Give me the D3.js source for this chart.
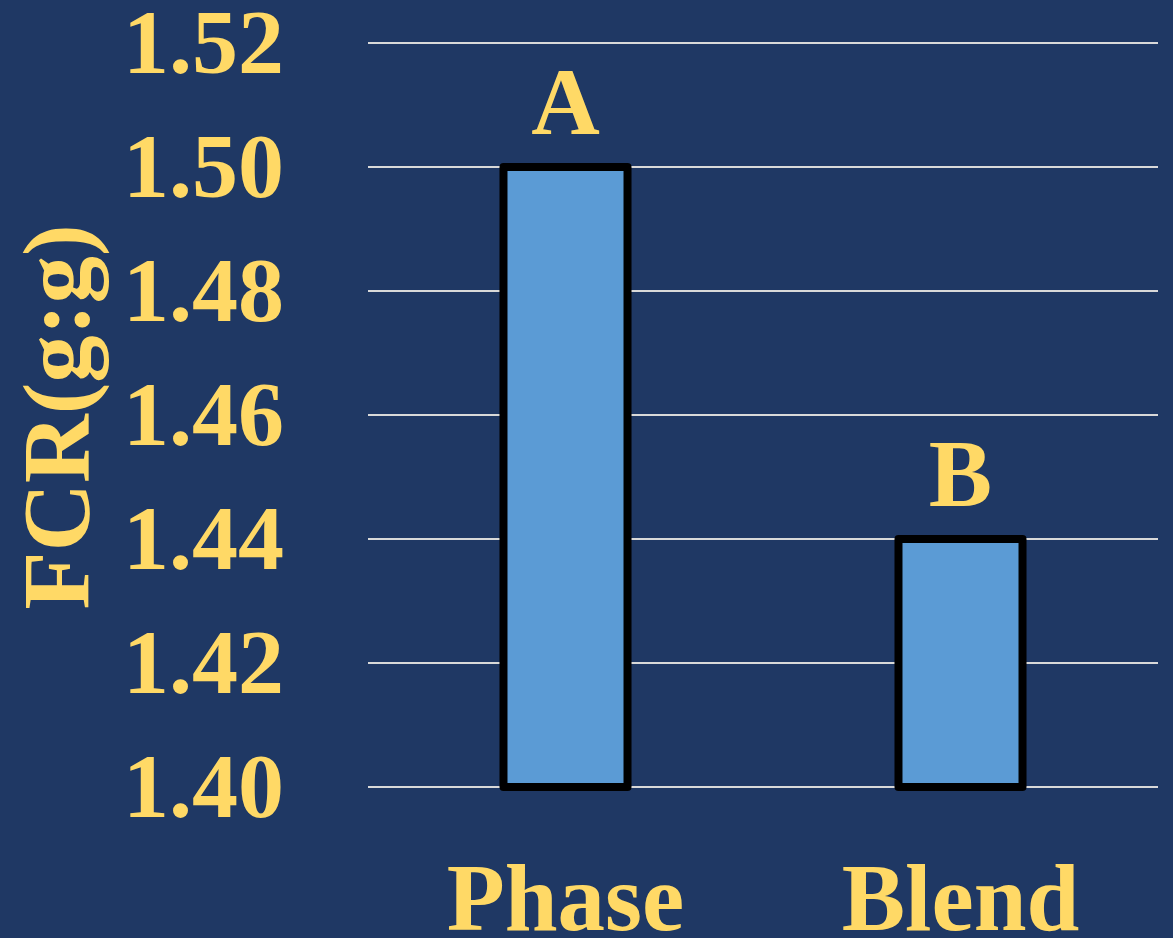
<!DOCTYPE html>
<html>
<head>
<meta charset="utf-8">
<script src="https://cdn.jsdelivr.net/npm/d3@7"></script>
<style>
  html, body { margin: 0; padding: 0; background: #1f3864; }
  svg { display: block; }
</style>
</head>
<body>
<script>
// datos del gráfico
const categorias = ["Phase", "Blend"];
const valores = [1.50, 1.44];
const letras = ["A", "B"];
const ticks = [1.40, 1.42, 1.44, 1.46, 1.48, 1.50, 1.52];
const tituloY = "FCR(g:g)";

const ancho = 1173, alto = 938;
const amarillo = "#ffd966";
const fuente = "'Liberation Serif', 'Times New Roman', serif";

const svg = d3.select("body").append("svg")
  .attr("width", ancho)
  .attr("height", alto);

svg.append("rect")
  .attr("width", ancho)
  .attr("height", alto)
  .attr("fill", "#1f3864");

// escalas
const y = d3.scaleLinear().domain([1.40, 1.52]).range([787, 43]);
const x = d3.scaleBand().domain(categorias).range([368, 1158])
  .paddingInner(0.686)
  .paddingOuter(0.343);

// líneas de grilla
svg.append("g")
  .selectAll("line")
  .data(ticks)
  .join("line")
  .attr("x1", 368)
  .attr("x2", 1158)
  .attr("y1", d => y(d))
  .attr("y2", d => y(d))
  .attr("stroke", "#d9d9d9")
  .attr("stroke-width", 2);

// etiquetas del eje Y
svg.append("g")
  .selectAll("text")
  .data(ticks)
  .join("text")
  .attr("x", 284)
  .attr("y", d => y(d) + 30)
  .attr("text-anchor", "end")
  .attr("font-family", fuente)
  .attr("font-weight", "bold")
  .attr("font-size", 92)
  .attr("fill", amarillo)
  .text(d => d.toFixed(2));

// barras
svg.append("g")
  .selectAll("rect")
  .data(valores)
  .join("rect")
  .attr("x", (d, i) => x(categorias[i]))
  .attr("y", d => y(d))
  .attr("width", x.bandwidth())
  .attr("height", d => y(1.40) - y(d))
  .attr("fill", "#5b9bd5")
  .attr("stroke", "#000")
  .attr("stroke-width", 8)
  .attr("stroke-linejoin", "round");

// letras sobre las barras
svg.append("g")
  .selectAll("text")
  .data(valores)
  .join("text")
  .attr("x", (d, i) => x(categorias[i]) + x.bandwidth() / 2)
  .attr("y", d => y(d) - 33)
  .attr("text-anchor", "middle")
  .attr("font-family", fuente)
  .attr("font-weight", "bold")
  .attr("font-size", 95)
  .attr("fill", amarillo)
  .text((d, i) => letras[i]);

// etiquetas del eje X
svg.append("g")
  .selectAll("text")
  .data(categorias)
  .join("text")
  .attr("x", d => x(d) + x.bandwidth() / 2)
  .attr("y", 930)
  .attr("text-anchor", "middle")
  .attr("font-family", fuente)
  .attr("font-weight", "bold")
  .attr("font-size", 95)
  .attr("fill", amarillo)
  .text(d => d);

// título del eje Y
svg.append("text")
  .attr("transform", "translate(89,417) rotate(-90)")
  .attr("text-anchor", "middle")
  .attr("font-family", fuente)
  .attr("font-weight", "bold")
  .attr("font-size", 95)
  .attr("fill", amarillo)
  .text(tituloY);
</script>
</body>
</html>
